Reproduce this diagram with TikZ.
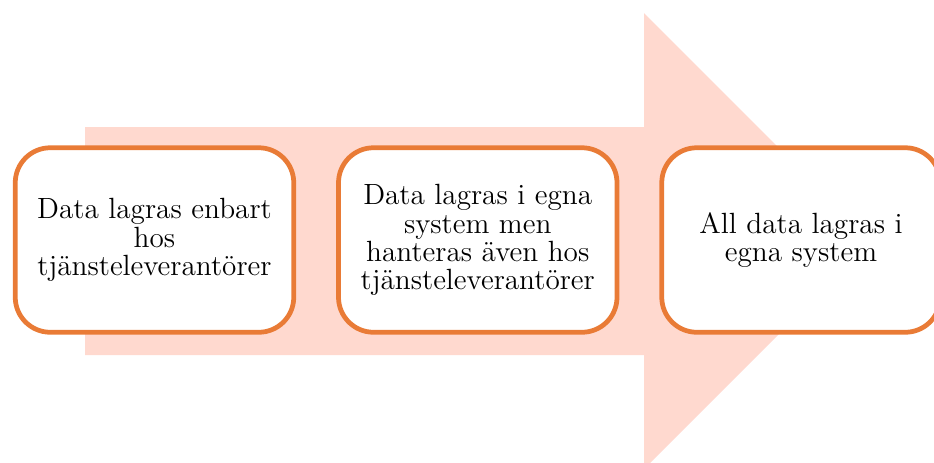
\documentclass[tikz,border=0pt]{standalone}
\usepackage{tikz}
\usetikzlibrary{positioning}
\definecolor{arrowpink}{HTML}{FFD9CF}
\definecolor{boxorange}{HTML}{E97B36}
\tikzset{
	x=0.4pt, y=-0.4pt, node distance =1 cm and 16pt,
	stage/.style ={rectangle, draw=boxorange, fill=white, line width=1.9pt, rounded corners=14pt,
		minimum width=111.4pt, minimum height=73.8pt, align=center, font=\fontsize{11.7}{11.3}\selectfont},
	flow/.style = {fill=arrowpink}
}
\begin{document}
\begin{tikzpicture}
		\useasboundingbox (0,0) rectangle (934,462);
		
		% Background arrow
		\fill[flow] (85,127) -- (644,127) -- (644,13) -- (872,241) -- (644,469) -- (644,355) -- (85,355) -- cycle;
		
		% Stages
		\node[stage] (extern) at (154.5,240) {Data lagras enbart\\hos\\tjänsteleverantörer};
		\node[stage, right=of extern] (blandat) {Data lagras i egna\\system men\\hanteras även hos\\tjänsteleverantörer};
		\node[stage, right=of blandat] (egna) {All data lagras i\\egna system};
\end{tikzpicture}
\end{document}
